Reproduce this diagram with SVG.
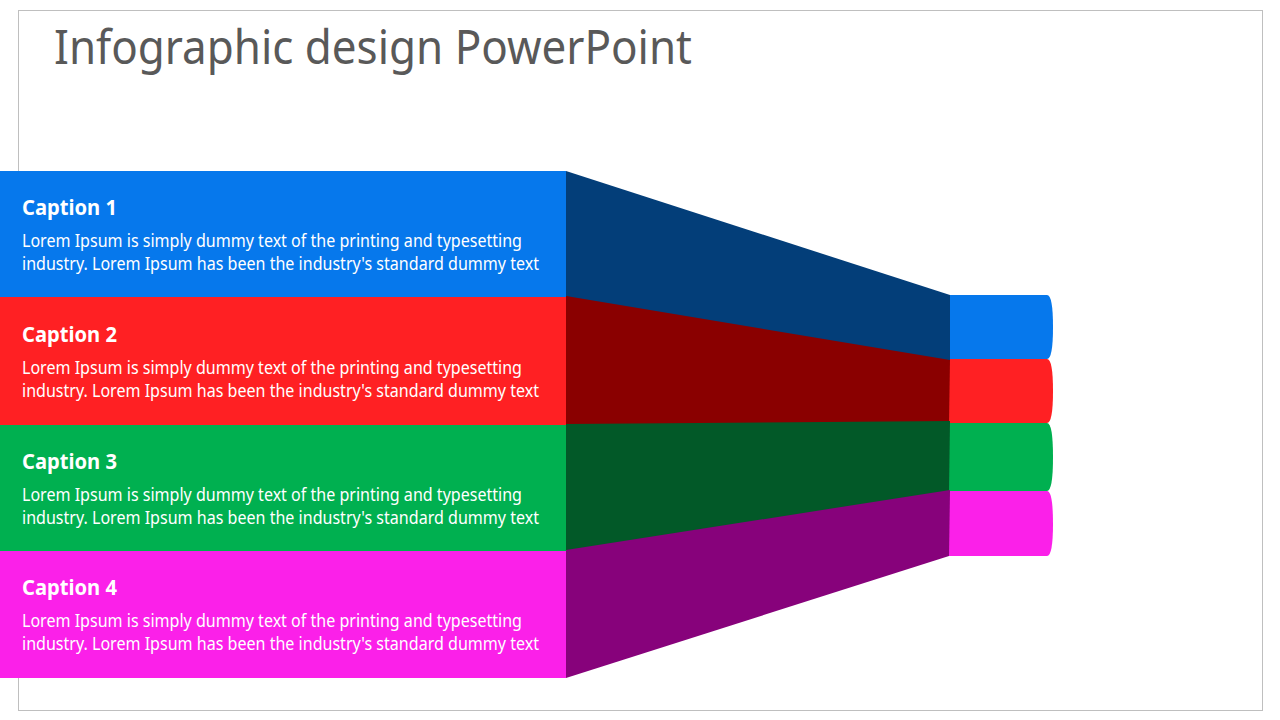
<svg xmlns="http://www.w3.org/2000/svg" width="1280" height="720" viewBox="0 0 1280 720">
<style>
text{font-family:"Noto Sans","Open Sans","Liberation Sans",sans-serif}
.cap{font-size:21.500px;font-weight:700;fill:#fff}
.body{font-size:17.500px;fill:#fff}
.title{font-size:47px;fill:#595959}
</style>
<rect width="1280" height="720" fill="#fff"/>
<rect x="18.500" y="10.500" width="1244" height="700" fill="none" stroke="#bfbfbf" stroke-width="1"/>
<text class="title" x="54" y="64" textLength="638" lengthAdjust="spacingAndGlyphs">Infographic design PowerPoint</text>
<g id="tail1"><path d="M950 295H1047Q1053 295 1053 327Q1053 359 1047 359H950Z" fill="#0678ec"/></g>
<g id="tail2"><path d="M949 359H1047Q1053 359 1053 391Q1053 423 1047 423H949Z" fill="#ff2023"/></g>
<g id="tail3"><path d="M949 423H1047Q1053 423 1053 457Q1053 491 1047 491H949Z" fill="#00b050"/></g>
<g id="tail4"><path d="M949 491H1047Q1053 491 1053 523.500Q1053 556 1047 556H949Z" fill="#fb20e9"/></g>
<g id="band1"><path d="M566 171L950 295V361L566 297Z" fill="#033e79"/></g>
<g id="band2"><path d="M566 296L950 360L949 423L566 425Z" fill="#8a0000"/></g>
<g id="band3"><path d="M566 424L950 421L949 492L566 552Z" fill="#025928"/></g>
<g id="band4"><path d="M566 550L950 490L949 556L566 678Z" fill="#87027b"/></g>
<g id="card1"><rect y="171" width="566" height="126" fill="#0678ec"/>
<text class="cap" x="22" y="215" textLength="95" lengthAdjust="spacingAndGlyphs">Caption 1</text>
<text class="body" x="22" y="247" textLength="500" lengthAdjust="spacingAndGlyphs">Lorem Ipsum is simply dummy text of the printing and typesetting</text>
<text class="body" x="22" y="270" textLength="517" lengthAdjust="spacingAndGlyphs">industry. Lorem Ipsum has been the industry's standard dummy text</text></g>
<g id="card2"><rect y="297" width="566" height="128" fill="#ff2023"/>
<text class="cap" x="22" y="342" textLength="95" lengthAdjust="spacingAndGlyphs">Caption 2</text>
<text class="body" x="22" y="374" textLength="500" lengthAdjust="spacingAndGlyphs">Lorem Ipsum is simply dummy text of the printing and typesetting</text>
<text class="body" x="22" y="397" textLength="517" lengthAdjust="spacingAndGlyphs">industry. Lorem Ipsum has been the industry's standard dummy text</text></g>
<g id="card3"><rect y="425" width="566" height="126" fill="#00b050"/>
<text class="cap" x="22" y="469" textLength="95" lengthAdjust="spacingAndGlyphs">Caption 3</text>
<text class="body" x="22" y="501" textLength="500" lengthAdjust="spacingAndGlyphs">Lorem Ipsum is simply dummy text of the printing and typesetting</text>
<text class="body" x="22" y="524" textLength="517" lengthAdjust="spacingAndGlyphs">industry. Lorem Ipsum has been the industry's standard dummy text</text></g>
<g id="card4"><rect y="551" width="566" height="127" fill="#fb20e9"/>
<text class="cap" x="22" y="595" textLength="95" lengthAdjust="spacingAndGlyphs">Caption 4</text>
<text class="body" x="22" y="627" textLength="500" lengthAdjust="spacingAndGlyphs">Lorem Ipsum is simply dummy text of the printing and typesetting</text>
<text class="body" x="22" y="650" textLength="517" lengthAdjust="spacingAndGlyphs">industry. Lorem Ipsum has been the industry's standard dummy text</text></g>
</svg>
